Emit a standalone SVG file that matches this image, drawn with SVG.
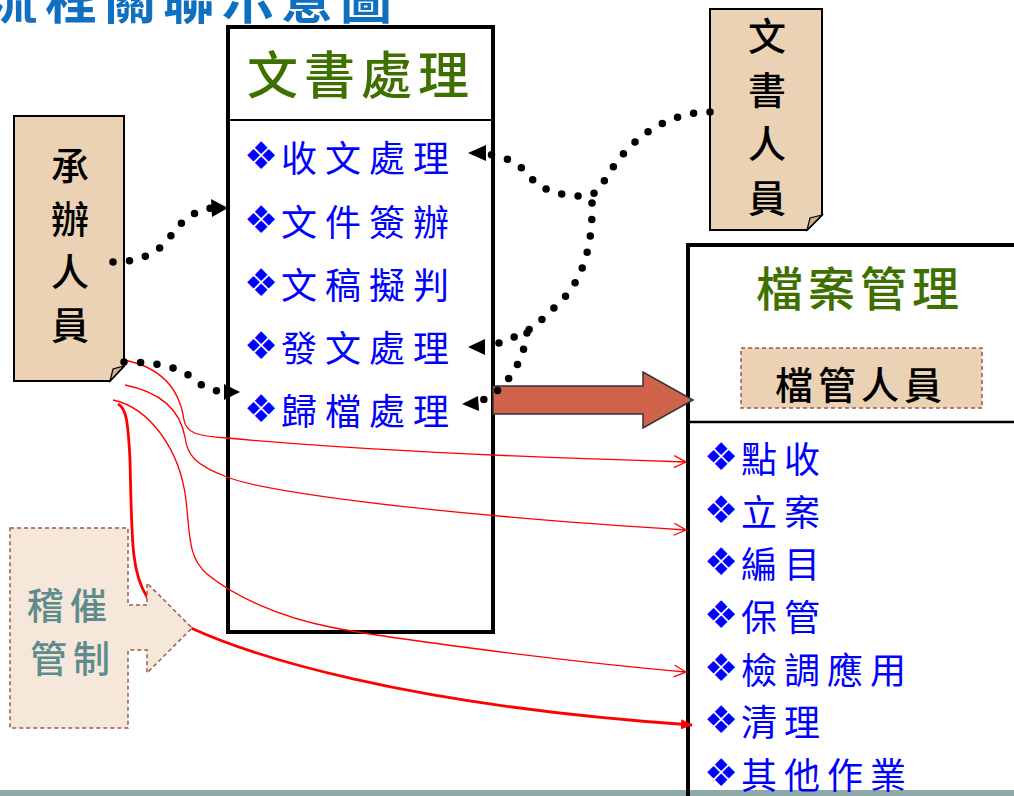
<svg xmlns="http://www.w3.org/2000/svg" width="1014" height="796" viewBox="0 0 1014 796">
<defs>
<style>
.cjk{font-family:"Noto Sans CJK TC","Noto Sans CJK SC",sans-serif}
.item{font-size:36px;fill:#0000FF;letter-spacing:8px}
.item2{font-size:36px;fill:#0000FF;letter-spacing:7px}
.bul{font-family:"DejaVu Sans",sans-serif;font-size:38px;letter-spacing:0}
.green{fill:#3E7000;font-weight:500}
.person{fill:#EBD2B4;stroke:#000;stroke-width:2}
.fold{fill:#C9B08F;stroke:#000;stroke-width:1.2}
.ptext{font-size:38px;fill:#000;text-anchor:middle;font-weight:500}
.dots{fill:none;stroke:#000;stroke-width:7.5;stroke-linecap:round;stroke-dasharray:0 16.5}
.ah{fill:#000}
.red{fill:none;stroke:#FF0000;stroke-width:1.3}
.dash{stroke:#A0584A;stroke-width:1.5;stroke-dasharray:4 3}
</style>
<marker id="va" viewBox="0 0 14 14" refX="13" refY="7" markerWidth="14" markerHeight="14" markerUnits="userSpaceOnUse" orient="auto">
<path d="M1,1 L13,7 L1,13" fill="none" stroke="#FF0000" stroke-width="1.3"/>
</marker>
<marker id="fa" viewBox="0 0 12 10" refX="11" refY="5" markerWidth="12" markerHeight="10" markerUnits="userSpaceOnUse" orient="auto">
<path d="M0,0 L12,5 L0,10 Z" fill="#FF0000"/>
</marker>
</defs>

<rect x="0" y="790" width="1014" height="6" fill="#8EA9A8"/>

<g id="title">
<text class="cjk" x="-14" y="19" font-size="52" font-weight="bold" fill="#0F70C0" letter-spacing="7">流程關聯示意圖</text>
</g>

<g id="doc-process">
<rect x="228" y="27" width="265" height="605" fill="none" stroke="#000" stroke-width="4"/>
<line x1="228" y1="120" x2="493" y2="120" stroke="#000" stroke-width="2"/>
<text class="cjk green" x="247" y="94" font-size="51" letter-spacing="6">文書處理</text>
<text class="cjk item" x="244" y="172"><tspan class="bul" dy="-3">❖</tspan><tspan dy="3" dx="3">收文處理</tspan></text>
<text class="cjk item" x="244" y="236"><tspan class="bul" dy="-3">❖</tspan><tspan dy="3" dx="3">文件簽辦</tspan></text>
<text class="cjk item" x="244" y="299"><tspan class="bul" dy="-3">❖</tspan><tspan dy="3" dx="3">文稿擬判</tspan></text>
<text class="cjk item" x="244" y="362"><tspan class="bul" dy="-3">❖</tspan><tspan dy="3" dx="3">發文處理</tspan></text>
<text class="cjk item" x="244" y="425"><tspan class="bul" dy="-3">❖</tspan><tspan dy="3" dx="3">歸檔處理</tspan></text>
</g>

<g id="archive-mgmt">
<path d="M688,796 V245 H1014" fill="none" stroke="#000" stroke-width="4"/>
<line x1="688" y1="422" x2="1014" y2="422" stroke="#000" stroke-width="2.5"/>
<text class="cjk green" x="756" y="306" font-size="47" letter-spacing="5">檔案管理</text>
<text class="cjk item2" x="704" y="473"><tspan class="bul" dy="-3">❖</tspan><tspan dy="3" dx="3">點收</tspan></text>
<text class="cjk item2" x="704" y="526"><tspan class="bul" dy="-3">❖</tspan><tspan dy="3" dx="3">立案</tspan></text>
<text class="cjk item2" x="704" y="578"><tspan class="bul" dy="-3">❖</tspan><tspan dy="3" dx="3">編目</tspan></text>
<text class="cjk item2" x="704" y="631"><tspan class="bul" dy="-3">❖</tspan><tspan dy="3" dx="3">保管</tspan></text>
<text class="cjk item2" x="704" y="684"><tspan class="bul" dy="-3">❖</tspan><tspan dy="3" dx="3">檢調應用</tspan></text>
<text class="cjk item2" x="704" y="736"><tspan class="bul" dy="-3">❖</tspan><tspan dy="3" dx="3">清理</tspan></text>
<text class="cjk item2" x="704" y="789"><tspan class="bul" dy="-3">❖</tspan><tspan dy="3" dx="3">其他作業</tspan></text>
</g>

<g id="archive-staff">
<rect x="741" y="348" width="241" height="60" fill="#EBD2B4" class="dash"/>
<text class="cjk" x="775" y="399" font-size="38" letter-spacing="5" fill="#000" font-weight="500">檔管人員</text>
</g>

<g id="handler">
<path class="person" d="M14,116 H124 V366 L110,381 H14 Z"/>
<path class="fold" d="M124,366 L110,381 L113,369 Z"/>
<text class="cjk ptext" x="70" y="180">承</text>
<text class="cjk ptext" x="70" y="233">辦</text>
<text class="cjk ptext" x="70" y="286">人</text>
<text class="cjk ptext" x="70" y="339">員</text>
</g>

<g id="clerk">
<path class="person" d="M710,9 H822 V215 L807,230 H710 Z"/>
<path class="fold" d="M822,215 L807,230 L810,218 Z"/>
<text class="cjk ptext" x="767" y="50">文</text>
<text class="cjk ptext" x="767" y="104">書</text>
<text class="cjk ptext" x="767" y="158">人</text>
<text class="cjk ptext" x="767" y="212">員</text>
</g>

<g id="connectors">
<path class="red" marker-end="url(#va)" d="M124,360 C165,368 180,392 184,420 C186,432 195,436 227,438 C300,445 450,455 686,462"/>
<path class="red" marker-end="url(#va)" d="M125,385 C160,392 180,410 185,437 C187,455 195,465 227,477 C260,490 400,512 686,530"/>
<path class="red" marker-end="url(#va)" d="M113,400 C150,408 180,450 186,500 C190,535 188,558 207,574 C235,597 280,617 330,627 C380,637 550,660 686,672"/>
<path fill="none" stroke="#FF0000" stroke-width="2.8" marker-end="url(#fa)" d="M118,404 C126,408 128,420 130,460 C132,540 131,572 147,597 L191,628 C250,655 400,705 692,725"/>

<path d="M493,386 H643 V372 L693,400 L643,428 V414 H493 Z" fill="#D0634B" stroke="#333" stroke-width="1.5"/>

<path class="dots" d="M113,262 C140,262 158,252 168,240 C180,222 192,211 211,208"/>
<polygon class="ah" points="228,208 211,199 212,217"/>
<path class="dots" d="M124,362 C160,362 182,368 196,381 C206,389 215,391 225,392"/>
<polygon class="ah" points="240,392 224,384 224,400"/>
<path class="dots" d="M710,112 C680,112 648,126 625,152 C607,172 602,190 590,196 C565,197 545,192 533,180 C522,166 510,157 487,154"/>
<polygon class="ah" points="468,153 486,145 486,161"/>
<path class="dots" d="M592,203 C593,245 583,280 560,302 C545,317 532,330 519,335 C507,340 497,344 486,347"/>
<polygon class="ah" points="468,347 485,339 485,355"/>
<path class="dots" d="M527,333 C524,355 515,375 496,392 C490,396 486,399 480,401"/>
<polygon class="ah" points="462,404 478,396 479,411"/>
</g>

<g id="monitor">
<path d="M10,528 H128 V605 H147 V583 L192,628 L147,673 V650 H128 V728 H10 Z" fill="#F5E7DA" class="dash"/>
<text class="cjk" x="27" y="620" font-size="37" letter-spacing="6" fill="#5E8B8C" font-weight="500">稽催</text>
<text class="cjk" x="30" y="673" font-size="37" letter-spacing="6" fill="#5E8B8C" font-weight="500">管制</text>
</g>
</svg>
